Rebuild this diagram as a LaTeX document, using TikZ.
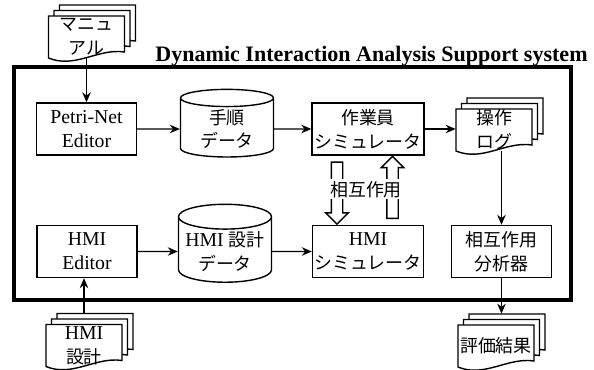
\documentclass[tikz,border=0pt]{standalone}
\usepackage{fontspec}
\setmainfont{Liberation Serif}[Scale=1.1]
\newfontfamily\jp{Noto Sans CJK JP}
\usetikzlibrary{shapes.geometric, shapes.arrows, arrows.meta, calc}

\begin{document}
\begin{tikzpicture}[
        box/.style={draw, thick, fill=white, minimum width=2cm, minimum height=1.04cm, align=center, inner sep=1pt},
        store/.style={cylinder, shape border rotate=90, aspect=0.3, draw, thick, fill=white, minimum width=1.86cm, minimum height=1.28cm, align=center, inner sep=1pt},
        doc/.style={minimum width=1.52cm, minimum height=0.84cm, align=center, inner sep=0pt},
        page/.style={draw, thick, fill=white},
        arr/.style={semithick, -{Stealth[length=0.2cm, width=0.17cm]}},
        fat arrow/.style={single arrow, draw, thick, fill=white, minimum width=0.42cm, single arrow head extend=0.11cm, minimum height=1.24cm, inner xsep=0pt, inner ysep=0.1cm},
        jp/.style={font=\jp\fontsize{10.2}{13.6}\selectfont},
        pics/docs/.style={code={
            \foreach \o in {0.22, 0.11, 0} {
                \draw[page, shift={(\o,\o)}] (-0.76,-0.42) .. controls (-0.23,-0.64) and (0.23,-0.22) .. (0.76,-0.30) -- (0.76,0.42) -- (-0.76,0.42) -- cycle;
            }
        }},
        font=\fontsize{10.2}{13.6}\selectfont
    ]
    \useasboundingbox (0,0) rectangle (11.88,7.38);

    % system frame
    \draw[line width=2.5pt] (0.28,1.38) rectangle (11.42,6.04);
    \node[anchor=base east, inner sep=0pt, font=\fontsize{11.4}{13}\selectfont\bfseries] (title) at (11.76,6.16) {Dynamic Interaction Analysis Support system};

    % upper row
    \node[box] (petri) at (1.73,4.80) {Petri-Net\\Editor};
    \node[store, jp] (steps) at (4.54,4.80) {手順\\データ};
    \node[box, jp, minimum width=2.24cm] (worker) at (7.36,4.80) {作業員\\シミュレータ};
    \pic at (9.88,4.78) {docs};
    \node[doc, jp] (oplog) at (9.88,4.78) {操作\\ログ};

    % lower row
    \node[box] (hmied) at (1.74,2.35) {HMI\\Editor};
    \node[store] (hmidata) at (4.50,2.35) {HMI {\jp 設計}\\{\jp データ}};
    \node[box, minimum width=2.22cm] (hmisim) at (7.36,2.35) {HMI\\{\jp シミュレータ}};
    \node[box, jp] (analyzer) at (10.03,2.35) {相互作用\\分析器};

    % documents outside the system
    \pic at (1.73,6.64) {docs};
    \node[doc, jp] (manual) at (1.73,6.64) {マニュ\\アル};
    \pic at (1.68,0.47) {docs};
    \node[doc] (hmidoc) at (1.68,0.47) {HMI\\{\jp 設計}};
    \pic at (9.92,0.46) {docs};
    \node[doc, jp] (result) at (9.92,0.46) {評価結果};

    % interaction
    \node[fat arrow, rotate=-90] (iadown) at ($(worker.south)!0.5!(hmisim.north)+(-0.62,0)$) {};
    \node[fat arrow, rotate=90] (iaup) at ($(worker.south)!0.5!(hmisim.north)+(0.49,0)$) {};
    \node[jp, fill=white, inner sep=1pt] (ialabel) at ($(worker.south)!0.5!(hmisim.north)+(-0.04,0.02)$) {相互作用};

    \draw[arr] (manual.south) -- (petri.north);
    \draw[arr] (petri.east) -- (steps.west);
    \draw[arr] (steps.east) -- (worker.west);
    \draw[arr] (worker.east) -- (worker.east -| oplog.west);
    \draw[arr] (analyzer.north |- oplog.south) -- (analyzer.north);
    \draw[arr] ([yshift=0.22cm]hmidoc.north) -- (hmidoc.north |- hmied.south);
    \draw[arr] (hmied.east) -- (hmidata.west);
    \draw[arr] (hmidata.east) -- (hmisim.west);
    \draw[arr] (analyzer.south) -- ([yshift=0.22cm]analyzer.south |- result.north);
\end{tikzpicture}
\end{document}
